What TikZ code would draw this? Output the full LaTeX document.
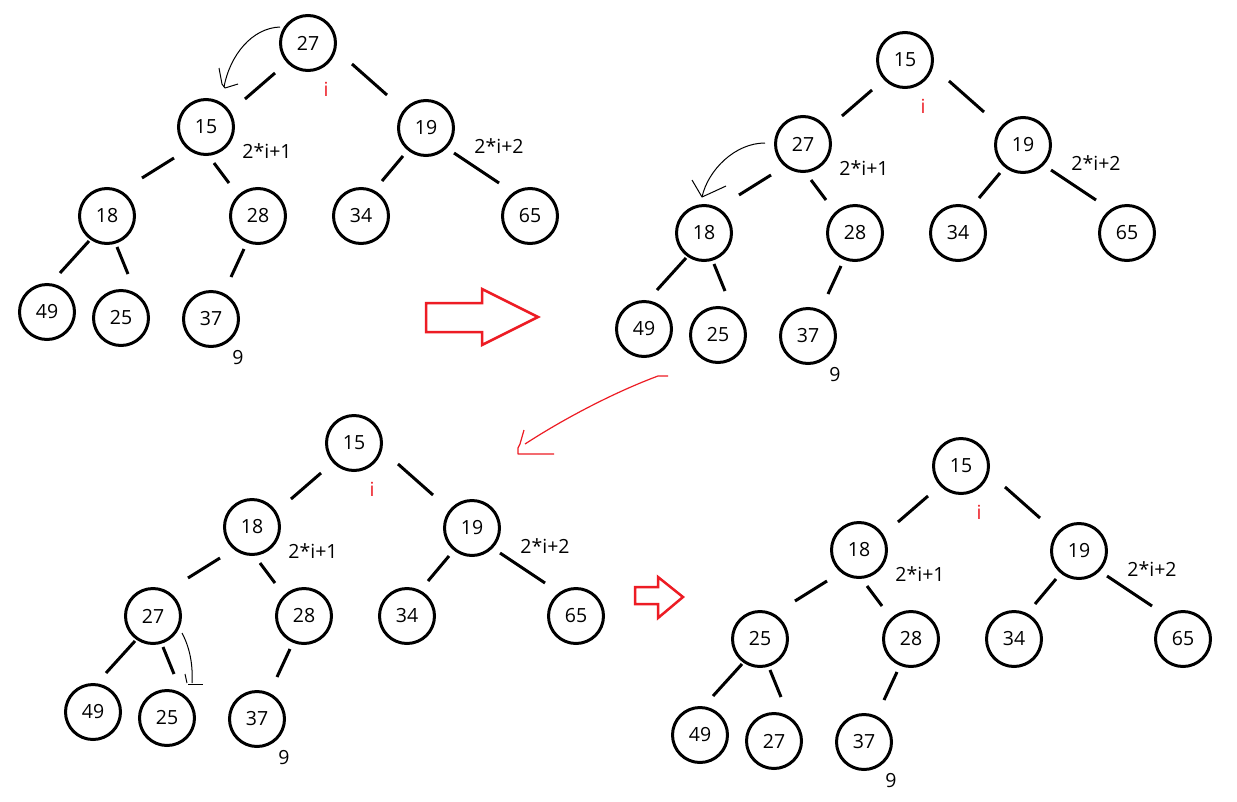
\documentclass[tikz,border=0pt]{standalone}
\usepackage{fontspec}
\setmainfont{Open Sans}
\definecolor{hred}{RGB}{237,28,36}
\newcommand{\hfont}{\fontsize{19.5pt}{23pt}\selectfont}
\newcommand{\heaptree}[4]{%
  \node[hn] (r) at (308,43) {#1};
  \node[hn] (a) at (206,127) {#2};
  \node[hn] (b) at (426,128) {19};
  \node[hn] (c) at (107,216) {#3};
  \node[hn] (d) at (258,216) {28};
  \node[hn] (e) at (361,216) {34};
  \node[hn] (f) at (530,216) {65};
  \node[hn] (g) at (47,312) {49};
  \node[hn] (h) at (121,318) {#4};
  \node[hn] (k) at (211,319) {37};
  \draw[he] ([shift={(-33,30)}]r.center) -- ([shift={(39,-28)}]a.center);
  \draw[he] ([shift={(44,21)}]r.center) -- ([shift={(-39,-33)}]b.center);
  \draw[he] ([shift={(-32,31)}]a.center) -- ([shift={(35,-38)}]c.center);
  \draw[he] ([shift={(8,36)}]a.center) -- ([shift={(-29,-33)}]d.center);
  \draw[he] ([shift={(-18,25)}]c.center) -- ([shift={(13,-39)}]g.center);
  \draw[he] ([shift={(10,31)}]c.center) -- ([shift={(7,-44)}]h.center);
  \draw[he] ([shift={(-14,33)}]d.center) -- ([shift={(20,-42)}]k.center);
  \draw[he] ([shift={(-23,28)}]b.center) -- ([shift={(21,-35)}]e.center);
  \draw[he] ([shift={(28,25)}]b.center) -- ([shift={(-31,-33)}]f.center);
  \node[ilbl] (li) at ([shift={(18,46)}]r.center) {i};
  \node[lbl] (l1) at ([shift={(61,24)}]a.center) {2*i+1};
  \node[lbl] (l2) at ([shift={(73,18)}]b.center) {2*i+2};
  \node[lbl] (l9) at ([shift={(27,39)}]k.center) {9};
}
\begin{document}
\begin{tikzpicture}[x=1pt,y=-1pt,
  hn/.style={circle,draw=black,line width=3pt,minimum size=55pt,inner sep=0pt,font=\hfont},
  he/.style={line width=3pt},
  lbl/.style={font=\hfont,inner sep=0pt},
  ilbl/.style={lbl,text=hred},
  sketch/.style={line width=1pt,line join=round},
  redarrow/.style={draw=hred,line width=2.5pt,line join=miter},
  redsketch/.style={draw=hred,line width=1.2pt,line join=round}]
\useasboundingbox[fill=white] (0,0) rectangle (1237,801);
\begin{scope}[name prefix=t1-]
  \heaptree{27}{15}{18}{25}
\end{scope}
\begin{scope}[shift={(597,17)},name prefix=t2-]
  \heaptree{15}{27}{18}{25}
\end{scope}
\begin{scope}[shift={(46,400)},name prefix=t3-]
  \heaptree{15}{18}{27}{25}
\end{scope}
\begin{scope}[shift={(653,423)},name prefix=t4-]
  \heaptree{15}{18}{25}{27}
\end{scope}
% hand-drawn swap arrows
\draw[sketch] (280,27) .. controls (252,28) and (230,55) .. (224,87);
\draw[sketch] (219,68) -- (222,84) -- (225,88) -- (238,84);
\draw[sketch] (765,143) .. controls (735,143) and (708,170) .. (702,197);
\draw[sketch] (692,180) -- (702,197) -- (713,192) -- (726,186);
\draw[sketch] (182,633) .. controls (190,648) and (193,665) .. (192,683);
\draw[sketch] (188,684) -- (203,684);
\draw[sketch] (185,674) -- (187,683);
% red arrows
\draw[redarrow] (426,303) -- (482,303) -- (482,289) -- (538,317) -- (482,345) -- (482,332) -- (426,332) -- cycle;
\draw[redarrow] (635,587) -- (658,587) -- (658,577) -- (683,597) -- (658,618) -- (658,604) -- (635,604) -- cycle;
\draw[redsketch] (668,376) -- (658,376) .. controls (615,392) and (565,418) .. (525,444);
\draw[redsketch] (524,430) -- (520,444) -- (518,448) -- (518,454) -- (554,454);
\end{tikzpicture}
\end{document}
